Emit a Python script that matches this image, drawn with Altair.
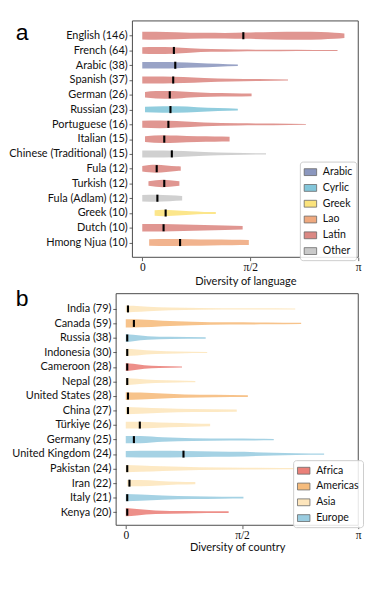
import json
import math
import altair as alt
import pandas as pd

PI = math.pi

LANG_NAMES = ["English", "French", "Arabic", "Spanish", "German", "Russian",
              "Portuguese", "Italian", "Chinese (Traditional)", "Fula", "Turkish",
              "Fula (Adlam)", "Greek", "Dutch", "Hmong Njua"]
LANG_COUNTS = [146, 64, 38, 37, 26, 23, 16, 15, 15, 12, 12, 12, 10, 10, 10]
LANG_SCRIPT = ["Latin", "Latin", "Arabic", "Latin", "Latin", "Cyrlic", "Latin",
               "Latin", "Other", "Latin", "Latin", "Other", "Greek", "Latin", "Lao"]
LANG_MEDIAN = [1.47, 0.46, 0.48, 0.45, 0.40, 0.41, 0.38, 0.32, 0.43, 0.21, 0.32,
               0.22, 0.34, 0.31, 0.55]
LANG_PROFILE = [
    [(0, 4.2), (0.2, 4.4), (0.5, 3.8), (0.9, 3.1), (1.2, 3.0), (1.5, 3.4), (1.9, 4.1), (2.3, 4.4), (2.6, 4.0), (2.8, 3.3), (2.94, 2.5)],
    [(0, 3.6), (0.2, 3.9), (0.45, 3.6), (0.7, 2.4), (1.0, 1.5), (1.4, 1.0), (2.0, 0.7), (2.5, 0.55), (2.84, 0.5)],
    [(0, 3.5), (0.3, 3.5), (0.5, 3.2), (0.8, 2.5), (1.1, 1.5), (1.39, 0.7)],
    [(0, 3.8), (0.3, 3.8), (0.6, 3.2), (0.9, 2.3), (1.3, 1.5), (1.7, 1.0), (2.12, 0.6)],
    [(0.04, 3.0), (0.2, 4.0), (0.45, 4.2), (0.7, 3.0), (1.0, 2.0), (1.3, 1.8), (1.59, 1.5)],
    [(0.04, 3.0), (0.3, 3.5), (0.5, 3.5), (0.8, 2.5), (1.1, 1.6), (1.39, 1.0)],
    [(0, 3.8), (0.25, 4.2), (0.5, 3.5), (0.9, 2.0), (1.4, 1.2), (1.9, 0.9), (2.38, 0.5)],
    [(0.04, 3.0), (0.3, 4.2), (0.5, 3.8), (0.8, 3.0), (1.05, 2.8), (1.27, 2.6)],
    [(0, 3.8), (0.3, 3.8), (0.6, 3.2), (0.9, 2.0), (1.3, 1.2), (1.8, 0.6)],
    [(0, 3.0), (0.1, 4.0), (0.2, 4.3), (0.35, 3.5), (0.5, 2.5), (0.56, 2.3)],
    [(0.09, 2.5), (0.2, 3.5), (0.3, 4.0), (0.4, 3.5), (0.54, 2.5)],
    [(0, 3.5), (0.2, 3.8), (0.4, 3.2), (0.58, 2.5)],
    [(0.18, 3.0), (0.3, 3.5), (0.45, 3.0), (0.7, 1.8), (0.9, 1.2), (1.07, 1.0)],
    [(0, 4.0), (0.3, 4.0), (0.6, 3.5), (0.9, 3.0), (1.2, 2.5), (1.46, 2.0)],
    [(0.1, 3.5), (0.4, 3.8), (0.7, 3.5), (1.0, 3.2), (1.3, 3.0), (1.55, 2.8)],
]
SCRIPTS = ["Arabic", "Cyrlic", "Greek", "Lao", "Latin", "Other"]
SCRIPT_COLORS = ["#7f8cb8", "#76c0d6", "#fbe06e", "#eea072", "#d87c76", "#c4c4c4"]

COUNTRY_NAMES = ["India", "Canada", "Russia", "Indonesia", "Cameroon", "Nepal",
                 "United States", "China", "Türkiye", "Germany", "United Kingdom",
                 "Pakistan", "Iran", "Italy", "Kenya"]
COUNTRY_COUNTS = [79, 59, 38, 30, 28, 28, 28, 27, 26, 25, 24, 24, 22, 21, 20]
COUNTRY_REGION = ["Asia", "Americas", "Europe", "Asia", "Africa", "Asia", "Americas",
                  "Asia", "Asia", "Europe", "Europe", "Asia", "Asia", "Europe", "Africa"]
COUNTRY_MEDIAN = [0.03, 0.11, 0.02, 0.02, 0.02, 0.02, 0.03, 0.03, 0.19, 0.11, 0.78,
                  0.02, 0.05, 0.02, 0.02]
COUNTRY_PROFILE = [
    [(0, 3.8), (0.1, 3.5), (0.3, 2.5), (0.6, 1.5), (1.0, 1.0), (1.6, 0.7), (2.29, 0.5)],
    [(0, 4.5), (0.2, 4.3), (0.5, 3.0), (0.9, 2.0), (1.4, 1.3), (1.9, 1.0), (2.37, 0.7)],
    [(0, 4.5), (0.1, 3.5), (0.3, 2.0), (0.6, 1.2), (1.08, 0.8)],
    [(0, 4.0), (0.15, 3.2), (0.4, 1.8), (0.7, 1.0), (1.1, 0.6)],
    [(0, 4.5), (0.1, 3.5), (0.25, 2.0), (0.45, 1.0), (0.76, 0.5)],
    [(0, 4.0), (0.15, 3.0), (0.4, 1.6), (0.7, 1.0), (0.94, 0.7)],
    [(0, 4.3), (0.2, 3.8), (0.5, 2.7), (0.8, 1.8), (1.2, 1.3), (1.65, 1.0)],
    [(0, 4.0), (0.2, 3.5), (0.5, 2.5), (0.9, 1.7), (1.5, 1.2)],
    [(0, 3.8), (0.3, 3.5), (0.6, 2.5), (0.9, 1.8), (1.14, 1.4)],
    [(0, 4.0), (0.2, 4.0), (0.5, 2.5), (0.9, 1.5), (1.4, 1.1), (2.0, 0.8)],
    [(0, 3.5), (0.4, 3.8), (0.8, 3.5), (1.2, 3.0), (1.6, 2.5), (2.0, 1.5), (2.3, 1.0), (2.68, 0.8)],
    [(0, 4.0), (0.2, 3.5), (0.5, 2.5), (1.0, 1.5), (1.6, 1.0), (2.5, 0.6)],
    [(0.02, 3.5), (0.2, 3.5), (0.45, 2.5), (0.7, 1.6), (0.94, 1.2)],
    [(0, 4.0), (0.2, 3.5), (0.5, 2.3), (0.9, 1.5), (1.3, 1.1), (1.59, 1.0)],
    [(0, 4.5), (0.15, 3.5), (0.4, 2.0), (0.8, 1.3), (1.39, 1.0)],
]
REGIONS = ["Africa", "Americas", "Asia", "Europe"]
REGION_COLORS = ["#e8736b", "#f5b46e", "#fde3b5", "#8fc7dd"]

W = 253
HA = 247
HB = 242
A_SHIFT = 17
XB_LO = -0.13
XA_LO = -(A_SHIFT + 10.3) * PI / (W - A_SHIFT - 10.3)
XA_FRAME = XA_LO + A_SHIFT / W * (PI - XA_LO)
YB_DOM = [-1.05, 14.9]
HALF = 0.0625
LABEL_FONT = "Lato"


def profile_df(names, groups, profiles):
    rows = []
    for i, (n, g, prof) in enumerate(zip(names, groups, profiles)):
        for x, d in prof:
            rows.append({"cat": n, "idx": i, "grp": g, "pos": x,
                         "lo": i - d * HALF, "hi": i + d * HALF})
    return pd.DataFrame(rows)


def median_df(names, medians):
    idx = list(range(len(names)))
    return pd.DataFrame({"cat": names, "pos": medians,
                         "lo": [i - 0.24 for i in idx], "hi": [i + 0.24 for i in idx]})


def x_axis(title, title_x, title_y):
    return alt.Axis(values=[0, PI / 2, PI],
                    labelExpr="datum.value < 0.5 ? '0' : (datum.value < 2 ? 'π/2' : 'π')",
                    labelFont="Liberation Serif", labelFontSize=12, labelColor="#111",
                    labelPadding=1.5, tickSize=3.5, tickColor="#333", tickWidth=0.8,
                    labelOverlap=False, labelBound=False, labelFlush=False,
                    domain=False, grid=False, title=title, titleFont=LABEL_FONT,
                    titleFontSize=11.5, titleFontWeight="normal", titleColor="#111",
                    titleX=title_x, titleY=title_y, titleBaseline="middle", titleAlign="center")


def y_axis(labels, offset):
    expr = json.dumps(labels, ensure_ascii=False) + "[round(datum.value)]"
    kw = dict(values=list(range(len(labels))), labelExpr=expr, labelFont=LABEL_FONT,
              labelFontSize=11.4, labelColor="#111", labelPadding=2, tickSize=3.5,
              labelOverlap=False, labelBound=False, labelFlush=False,
              tickColor="#333", tickWidth=0.8, domain=False, grid=False, title=None)
    if offset:
        kw["offset"] = offset
    return alt.Axis(**kw)


def legend(x, y):
    return alt.Legend(title=None, orient="none", legendX=x, legendY=y,
                      fillColor="rgba(255,255,255,0.85)", strokeColor="#cccccc",
                      cornerRadius=3, padding=4,
                      symbolType="M-1,-0.55H1V0.55H-1Z", symbolSize=169,
                      symbolStrokeColor="#555", symbolStrokeWidth=0.8, symbolOpacity=0.9,
                      labelFont=LABEL_FONT, labelFontSize=11, labelColor="#111",
                      labelOffset=6, rowPadding=3.5)


def panel(names, counts, groups, medians, profiles, dom_groups, colors,
          xdom, ydom, frame_x0, height, xtitle, title_x, title_y, yoffset, leg,
          letter, letter_y):
    labels = [f"{n} ({c})" for n, c in zip(names, counts)]
    xs = alt.Scale(domain=xdom, nice=False, zero=False)
    ys = alt.Scale(domain=ydom, reverse=True, nice=False, zero=False)
    xa = x_axis(xtitle, title_x, title_y)
    ya = y_axis(labels, yoffset)
    violins = alt.Chart(profile_df(names, groups, profiles)).mark_area(
        interpolate="monotone", opacity=0.8).encode(
        x=alt.X("pos:Q", scale=xs, axis=xa),
        y=alt.Y("lo:Q", scale=ys, axis=ya),
        y2="hi:Q",
        color=alt.Color("grp:N", scale=alt.Scale(domain=dom_groups, range=colors),
                        legend=leg),
        detail="cat:N",
    )
    meds = alt.Chart(median_df(names, medians)).mark_rule(
        color="black", strokeWidth=2.2).encode(
        x=alt.X("pos:Q", scale=xs, axis=xa), y=alt.Y("lo:Q", scale=ys, axis=ya), y2="hi:Q")
    frame = alt.Chart(pd.DataFrame({"pos": [frame_x0], "x1": [PI],
                                    "lo": [ydom[0]], "hi": [ydom[1]]})).mark_rect(
        fillOpacity=0, stroke="#444", strokeWidth=1).encode(
        x=alt.X("pos:Q", scale=xs, axis=xa), x2="x1:Q",
        y=alt.Y("lo:Q", scale=ys, axis=ya), y2="hi:Q")
    let = alt.Chart(pd.DataFrame({"t": [letter]})).mark_text(
        align="left", baseline="alphabetic", fontSize=24, font="Liberation Sans",
        color="black").encode(text="t:N", x=alt.value(-105), y=alt.value(letter_y))
    return alt.layer(violins, meds, frame, let).properties(width=W, height=height)


panel_a = panel(LANG_NAMES, LANG_COUNTS, LANG_SCRIPT, LANG_MEDIAN, LANG_PROFILE,
                SCRIPTS, SCRIPT_COLORS, [XA_LO, PI], [-1, 15], XA_FRAME, HA,
                "Diversity of language", 135, 25.5, -A_SHIFT, legend(192, 147), "a", 20)
panel_b = panel(COUNTRY_NAMES, COUNTRY_COUNTS, COUNTRY_REGION, COUNTRY_MEDIAN,
                COUNTRY_PROFILE, REGIONS, REGION_COLORS, [XB_LO, PI], YB_DOM, XB_LO,
                HB, "Diversity of country", W / 2, 23, 0, legend(185, 174), "b", 13)

chart = alt.vconcat(panel_a, panel_b, spacing=1).resolve_scale(
    x="independent", y="independent", color="independent"
).configure_view(stroke=None).properties(padding=0, background="white")

chart.save("out.html", embed_options={"renderer": "svg", "actions": False})
